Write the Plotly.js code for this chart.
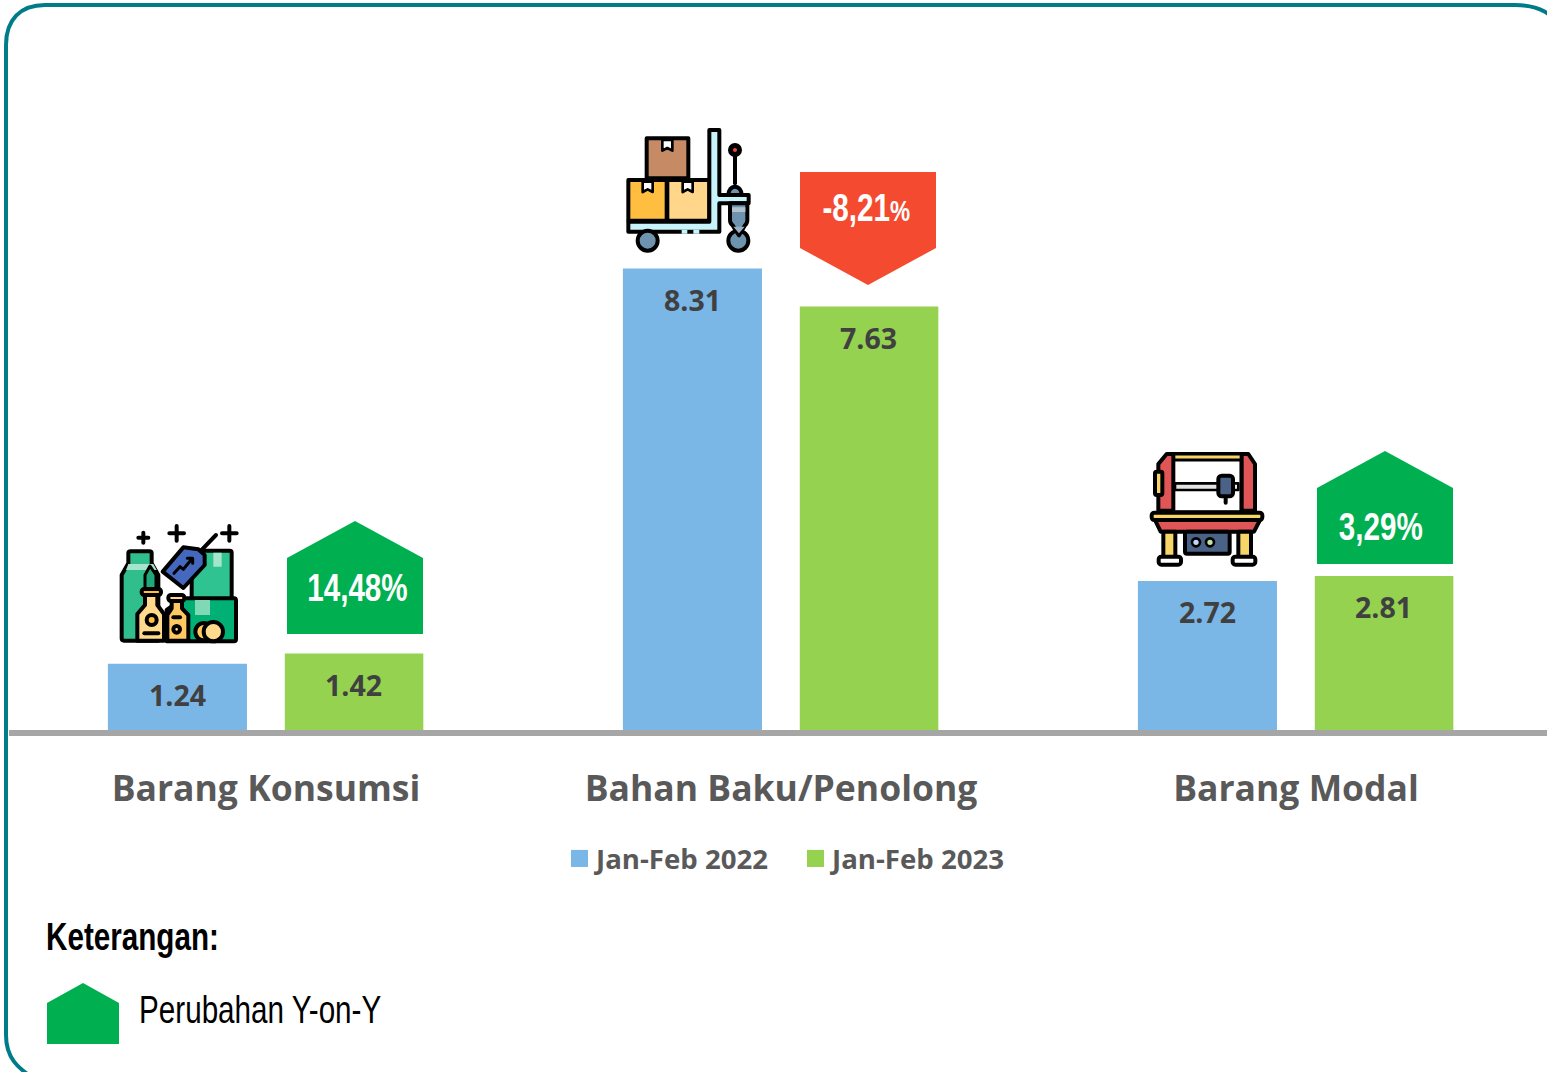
<!DOCTYPE html>
<html><head><meta charset="utf-8">
<script src="https://cdn.plot.ly/plotly-3.0.1.min.js"></script>
<style>html,body{margin:0;padding:0;background:#fff;overflow:hidden}#chart{width:1547px;height:1072px}</style>
</head><body><div id="chart"></div>
<script>
const categories = ['Barang Konsumsi', 'Bahan Baku/Penolong', 'Barang Modal'];
const series2022 = [1.24, 8.31, 2.72];
const series2023 = [1.42, 7.63, 2.81];
const name2022 = 'Jan-Feb 2022';
const name2023 = 'Jan-Feb 2023';
const changeLabels = ['14,48%', '-8,21<span style="font-size:29px">%</span>', '3,29%'];

const W = 1547, H = 1072, L = 9, B = 730;      // plot box in page pixels
const PXU = 55.9, ZERO = 733, C0 = 266, STEP = 515;
const fx = p => (p - L) / (W - L);
const fy = p => 1 - p / B;
const toPath = pts => pts.map((p, i) => (i ? 'L' : 'M') + fx(p[0]) + ',' + fy(p[1])).join(' ') + ' Z';
const poly = (pts, color) => ({type:'path', xref:'paper', yref:'paper', path: toPath(pts), fillcolor: color, line:{width:0}, layer:'above'});
const GREEN = '#00B050', RED = '#F44B30';

function curve(parts){
  let s = '';
  parts.forEach(t => { s += typeof t === 'string' ? t : fx(t[0]) + ',' + fy(t[1]) + ' '; });
  return s;
}
const shapes = [
  {type:'path', xref:'paper', yref:'paper', layer:'above', line:{color:'#007C89', width:4},
   path: curve(['M',[1565,30],'C',[1552,14],[1540,5],[1515,5],'L',[45,5],'C',[20,5],[6,20],[6,45],'L',[6,1035],'C',[6,1058],[18,1068],[33,1078]])},
  poly([[287,558],[355,521],[423,558],[423,634],[287,634]], GREEN),
  poly([[800,172],[936,172],[936,248],[868,285],[800,248]], RED),
  poly([[1317,488],[1385,451],[1453,488],[1453,564],[1317,564]], GREEN),
  poly([[47,1003],[83,983],[119,1003],[119,1044],[47,1044]], GREEN)
];

const S = 'stroke="#000" stroke-width="12" stroke-linejoin="round" stroke-linecap="round"';
const iconGoods = `<svg xmlns="http://www.w3.org/2000/svg" viewBox="50 40 370 370" width="370" height="370"><g ${S}>
<path d="M130,68V98M115,83H145M230,48V92M208,70H252M388,48V92M366,70H410M300,125L348,75" fill="none"/>
<rect x="275" y="122" width="120" height="145" rx="6" fill="#2FC392"/>
<path d="M340,128H365V170H340Z" fill="#A6E5CC" stroke="none"/>
<path d="M65,195L85,160V130Q85,124 92,124H148Q155,124 155,130V160L175,195V392H72Q65,392 65,385Z" fill="#2FBE8C"/>
<path d="M85,162H160L170,180H78Z" fill="#A6E5CC" stroke="none"/>
<path d="M250,265H402Q408,265 408,272V388Q408,394 402,394H200V300Z" fill="#00B074"/>
<path d="M285,270H330V315H285Z" fill="#7FD9B5" stroke="none"/>
<path d="M150,168L168,195V240H135V195Z" fill="#1FA97A" stroke-width="9"/>
<rect x="125" y="237" width="58" height="18" rx="8" fill="#FFBE40"/>
<path d="M135,255V285L112,312V392H192V312L172,285V255Z" fill="#FFD98C"/>
<circle cx="155" cy="330" r="15" fill="#FFBE40"/><path d="M133,370H175" fill="none"/>
<rect x="205" y="255" width="48" height="18" rx="8" fill="#FFD98C"/>
<path d="M215,273V295L202,315V392H265V315L246,295V273Z" fill="#FFC860"/>
<circle cx="230" cy="358" r="10" fill="#FFD98C"/><path d="M220,322H240" fill="none"/>
<circle cx="312" cy="365" r="26" fill="#FFC860"/><circle cx="340" cy="365" r="29" fill="#FFD98C"/>
<path d="M188,185L250,112L295,118L314,135V165L250,234Z" fill="#4468BE"/>
<path d="M222,190L240,170L250,178L275,148M262,145H278V160" fill="none" stroke-width="9"/>
</g></svg>`;
const iconCart = `<svg xmlns="http://www.w3.org/2000/svg" viewBox="40 20 390 385" width="390" height="385"><g ${S}>
<rect x="110" y="55" width="125" height="120" fill="#C68A64"/>
<path d="M157,60H187V92L172,84L157,92Z" fill="#fff" stroke-width="8"/>
<rect x="55" y="180" width="115" height="122" fill="#FFBE40"/>
<rect x="172" y="180" width="126" height="122" fill="#FFD68A"/>
<path d="M98,185H128V216L113,208L98,216Z" fill="#fff" stroke-width="8"/>
<path d="M218,185H248V216L233,208L218,216Z" fill="#fff" stroke-width="8"/>
<path d="M375,90V190" fill="none"/>
<circle cx="375" cy="90" r="15" fill="#000"/><circle cx="375" cy="90" r="6" fill="#F04A40" stroke="none"/>
<path d="M355,225A20,25 0 0 1 395,225Z" fill="#6E93AE"/>
<path d="M298,30H328V225H416V250H328V335H55V305H298Z" fill="#C8F3FA"/>
<path d="M215,335H232M250,335H268" stroke="#C8F3FA" stroke-width="12" fill="none" stroke-linecap="butt"/>
<circle cx="113" cy="362" r="30" fill="#6E93AE"/>
<circle cx="385" cy="362" r="30" fill="#6E93AE"/>
<path d="M360,250H412V300Q412,310 405,316L387,346L368,316Q360,310 360,300Z" fill="#6E93AE"/>
<path d="M366,262H406V276H366Z" fill="#B0C0CC" stroke="none"/>
<path d="M370,320H404L387,340Z" fill="#9AAFC0" stroke="none"/>
</g></svg>`;
const iconMachine = `<svg xmlns="http://www.w3.org/2000/svg" viewBox="55 30 350 355" width="350" height="355"><g ${S}>
<rect x="125" y="42" width="210" height="175" fill="#fff"/>
<path d="M130,42H335V60H130Z" fill="#F8D568" stroke-width="9"/>
<path d="M85,72L110,42H130V212H85Z" fill="#E05555"/>
<path d="M335,42H355L375,72V212H335Z" fill="#E05555"/>
<path d="M135,130H325V150H135Z" fill="#E4E4E4" stroke-width="8"/>
<rect x="75" y="95" width="22" height="70" rx="5" fill="#F8D568"/>
<path d="M287,165V188" fill="none"/>
<rect x="265" y="107" width="44" height="62" rx="10" fill="#4A6285"/>
<path d="M75,240H390L372,275H92Z" fill="#E05555"/>
<rect x="100" y="275" width="36" height="76" fill="#F8D568"/>
<rect x="325" y="275" width="38" height="76" fill="#F8D568"/>
<rect x="165" y="275" width="134" height="66" rx="6" fill="#4A6285"/>
<circle cx="198" cy="307" r="12" fill="#BFD6F8" stroke-width="8"/>
<circle cx="240" cy="307" r="12" fill="#BDE6A8" stroke-width="8"/>
<rect x="65" y="218" width="332" height="22" rx="8" fill="#F8D568"/>
<rect x="86" y="350" width="67" height="24" rx="8" fill="#fff"/>
<rect x="308" y="350" width="68" height="24" rx="8" fill="#fff"/>
</g></svg>`;
function img(svg, x0, y0, w, h){
  return {source:'data:image/svg+xml;charset=utf-8,' + encodeURIComponent(svg), xref:'paper', yref:'paper',
    x: fx(x0), y: fy(y0), sizex: w / (W - L), sizey: h / B, xanchor:'left', yanchor:'top', sizing:'stretch', layer:'above'};
}
const images = [
  img(iconGoods, 100 + 50/3, 510 + 40/3, 370/3, 370/3),
  img(iconCart, 610 + 40/3, 120 + 20/3, 390/3, 385/3),
  img(iconMachine, 1130 + 55/3, 440 + 30/3, 350/3, 355/3)
];

const VAL_FONT = {family:'"Open Sans"', size:28.5, color:'#404040', weight:700};
const annotations = [];
function valueLabels(vals, off){
  vals.forEach((v, i) => annotations.push({
    xref:'paper', yref:'paper', x: fx(C0 + STEP * i + off), y: fy(ZERO - PXU * v + 31.5),
    text: v.toFixed(2), showarrow:false, xanchor:'center', yanchor:'middle', font: VAL_FONT }));
}
valueLabels(series2022, -89);
valueLabels(series2023, 87);
const NARROW = '"Liberation Sans"';
const badgeXY = [[357,588],[866,208],[1381,527]];
changeLabels.forEach((t, i) => annotations.push({xref:'paper', yref:'paper', x: fx(badgeXY[i][0]), y: fy(badgeXY[i][1]),
  text:t, showarrow:false, xanchor:'center', yanchor:'middle', font:{family:NARROW, size:38, color:'#fff', weight:700}}));
annotations.push({xref:'paper', yref:'paper', x: fx(43.5), y: fy(937), text:'Keterangan:', showarrow:false, xanchor:'left', yanchor:'middle',
  font:{family:NARROW, size:38, color:'#000', weight:700}});
annotations.push({xref:'paper', yref:'paper', x: fx(137), y: fy(1009.5), text:'Perubahan Y-on-Y', showarrow:false, xanchor:'left', yanchor:'middle',
  font:{family:NARROW, size:38, color:'#000'}});

const traces = [
  {type:'bar', name:name2022, x:categories, y:series2022, width:0.27, offset:-0.307, marker:{color:'#7AB6E6'}, hoverinfo:'x+y'},
  {type:'bar', name:name2023, x:categories, y:series2023, width:0.269, offset:0.0365, marker:{color:'#94D250'}, hoverinfo:'x+y'}
];
const layout = {
  width:W, height:H, autosize:false, paper_bgcolor:'#fff', plot_bgcolor:'#fff',
  margin:{l:L, r:0, t:0, b:H - B, pad:0},
  barmode:'group',
  xaxis:{type:'category', categoryorder:'array', categoryarray:categories, range:[(L - C0)/STEP, (W - C0)/STEP], showgrid:false, zeroline:false,
    showline:true, linecolor:'#A6A6A6', linewidth:6, ticks:'', ticklabelstandoff:22, automargin:false,
    tickfont:{family:'"Open Sans"', size:35.5, color:'#595959', weight:700}},
  yaxis:{range:[(ZERO - B)/PXU, ZERO/PXU], visible:false, fixedrange:true},
  showlegend:true,
  legend:{orientation:'h', x:fx(556), xanchor:'left', y:fy(834), yanchor:'top', bgcolor:'rgba(0,0,0,0)', borderwidth:0,
    entrywidth:191, entrywidthmode:'pixels', traceorder:'normal', font:{family:'"Open Sans"', size:27.6, color:'#595959', weight:700}},
  shapes, images, annotations
};
Plotly.newPlot('chart', traces, layout, {displayModeBar:false, responsive:false}).then(() => {
  document.querySelectorAll('.legendpoints path').forEach(p => { p.style.transform = 'translate(23.5px,0) scale(1.42)'; });
  document.querySelectorAll('.annotation-text').forEach(t => {
    if (!t.style.fontFamily.includes('Liberation')) return;
    const left = t.textContent.startsWith('Keterangan') || t.textContent.startsWith('Perubahan');
    t.style.transformBox = 'fill-box';
    t.style.transformOrigin = left ? 'left center' : 'center center';
    t.style.transform = 'scaleX(0.78)';
  });
});
</script></body></html>
